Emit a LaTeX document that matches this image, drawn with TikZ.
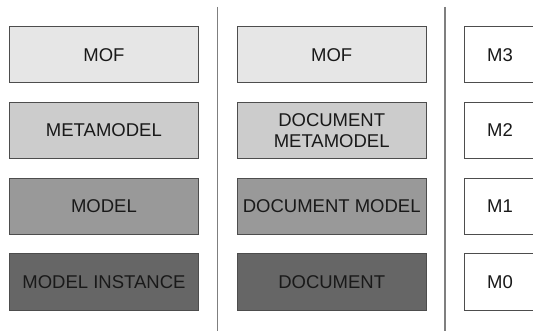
\documentclass[tikz,border=0pt]{standalone}
\usepackage{fontspec}
\setmainfont{Liberation Sans}
\usepackage{tikz}
\usetikzlibrary{calc,positioning}
\definecolor{lvlthree}{HTML}{E6E6E6}
\definecolor{lvltwo}{HTML}{CCCCCC}
\definecolor{lvlone}{HTML}{999999}
\definecolor{lvlzero}{HTML}{666666}
\definecolor{edgegray}{HTML}{4D4D4D}
\definecolor{sepgray}{HTML}{7F7F7F}
\tikzset{
layer/.style={
  rectangle,
  draw=edgegray,
  line width=0.8pt,
  align=center,
  text=black!90,
  minimum width=189pt,
  minimum height=56.5pt,
  inner sep=0pt,
  font=\fontsize{18.5}{21}\selectfont},
level/.style={layer, fill=white, minimum width=72pt},
separator/.style={draw=sepgray, line width=1.3pt}
}
\begin{document}
\begin{tikzpicture}[node distance=18.5pt and 38pt]
    \clip (0,0) rectangle (533pt,-331pt);
    \fill[white] (0,0) rectangle (533pt,-331pt);
    % generic layers
    \node [layer, fill=lvlthree, anchor=north west] (mof) at (9pt,-26pt) {MOF};
    \node [layer, fill=lvltwo, below=of mof] (meta) {METAMODEL};
    \node [layer, fill=lvlone, below=of meta] (model) {MODEL};
    \node [layer, fill=lvlzero, below=of model] (inst) {MODEL INSTANCE};
    % document layers
    \node [layer, fill=lvlthree, right=of mof] (dmof) {MOF};
    \node [layer, fill=lvltwo, right=of meta] (dmeta) {DOCUMENT\\METAMODEL};
    \node [layer, fill=lvlone, right=of model] (dmodel) {DOCUMENT MODEL};
    \node [layer, fill=lvlzero, right=of inst] (doc) {DOCUMENT};
    % level names
    \node [level, right=37pt of dmof] (m3) {M3};
    \node [level, right=37pt of dmeta] (m2) {M2};
    \node [level, right=37pt of dmodel] (m1) {M1};
    \node [level, right=37pt of doc] (m0) {M0};
    % column separators
    \coordinate (septop1) at ($(mof.north east)!0.5!(dmof.north west) + (0,19pt)$);
    \coordinate (sepbot1) at ($(inst.south east)!0.5!(doc.south west) + (0,-25pt)$);
    \coordinate (septop2) at ($(dmof.north east)!0.5!(m3.north west) + (0,19pt)$);
    \coordinate (sepbot2) at ($(doc.south east)!0.5!(m0.south west) + (0,-25pt)$);
    \path [separator] (septop1) -- (sepbot1);
    \path [separator] (septop2) -- (sepbot2);
\end{tikzpicture}
\end{document}
